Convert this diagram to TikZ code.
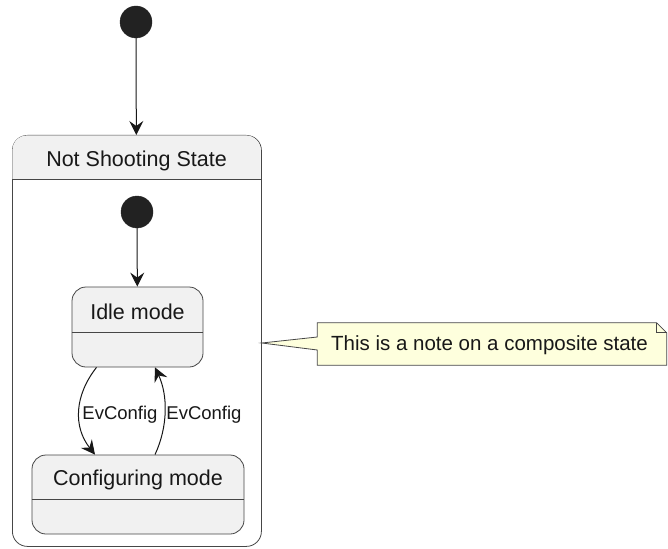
\documentclass[tikz,border=0pt]{standalone}
\usepackage{fontspec}
\setmainfont{Liberation Sans}
\usetikzlibrary{arrows.meta}
\definecolor{stfill}{HTML}{F1F1F1}
\definecolor{stline}{HTML}{181818}
\definecolor{notefill}{HTML}{FEFFDD}
\definecolor{initfill}{HTML}{222222}
\tikzset{
  statebox/.style={draw=stline!80, fill=stfill, line width=0.8pt, rounded corners=14pt, inner sep=0pt},
  initdot/.style={circle, fill=initfill, draw=initfill, minimum size=32pt, inner sep=0pt},
  arr/.style={draw=stline, line width=1pt, -{Stealth[length=14pt, width=14pt, inset=5pt]}},
  stname/.style={font=\fontsize{21.5}{24}\selectfont, text=stline, inner sep=0pt, anchor=base},
  evlabel/.style={font=\fontsize{18.5}{21}\selectfont, text=stline, inner sep=0pt, anchor=base},
  notetext/.style={font=\fontsize{20.5}{23}\selectfont, text=stline, inner sep=0pt, anchor=base},
  divider/.style={draw=stline!80, line width=0.8pt}
}
\begin{document}
\begin{tikzpicture}[x=1pt, y=-1pt]
\useasboundingbox (0,0) rectangle (668,548);
% composite state
\node[draw=stline!80, fill=white, line width=0.8pt, rounded corners=15pt, minimum width=249pt, minimum height=411pt, anchor=north west, inner sep=0pt] (comp) at (12,135) {};
\fill[stfill] (12.4,179) [rounded corners=14.6pt]-- (12.4,135.4) -- (260.6,135.4) [sharp corners]-- (260.6,179) -- cycle;
\draw[divider] (comp.west |- 0,179) -- (comp.east |- 0,179);
\node[stname] (comptitle) at (136.5,166.5) {Not Shooting State};
% initial states
\node[initdot] (init1) at (136,22) {};
\node[initdot] (init2) at (137,212) {};
% inner states
\node[statebox, minimum width=131pt, minimum height=80pt] (idle) at (137.5,327) {};
\draw[divider] (idle.west |- 0,332) -- (idle.east |- 0,332);
\node[stname] (idlelbl) at (137.5,319.5) {Idle mode};
\node[statebox, minimum width=212pt, minimum height=79pt] (conf) at (138,494.5) {};
\draw[divider] (conf.west |- 0,499) -- (conf.east |- 0,499);
\node[stname] (conflbl) at (138,485.5) {Configuring mode};
% transitions
\draw[arr] (init1) -- (comp);
\draw[arr] (init2) -- (idle);
\draw[arr] ([xshift=-41pt]idle.south) .. controls +(-22,28) and +(-22,-28) .. ([xshift=-43pt]conf.north);
\draw[arr] ([xshift=17pt]conf.north) .. controls +(13,-28) and +(13,28) .. ([xshift=17.5pt]idle.south);
\node[evlabel] (ev1) at (120,419.5) {EvConfig};
\node[evlabel] (ev2) at (204,419.5) {EvConfig};
% note
\node[minimum width=349pt, minimum height=42pt, inner sep=0pt] (note) at (492,344) {};
\draw[draw=stline!80, fill=notefill, line width=0.8pt]
  (note.north west) -- ([xshift=-10pt]note.north east) -- ([yshift=-10pt]note.north east)
  -- (note.south east) -- (note.south west) -- (note.west |- 0,350)
  -- (comp.east |- 0,343) -- (note.west |- 0,337) -- cycle;
\draw[draw=stline!80, line width=0.8pt] ([xshift=-10pt]note.north east) -- ([xshift=-10pt,yshift=-10pt]note.north east) -- ([yshift=-10pt]note.north east);
\node[notetext] (notelbl) at (489.5,350.5) {This is a note on a composite state};
\end{tikzpicture}
\end{document}
